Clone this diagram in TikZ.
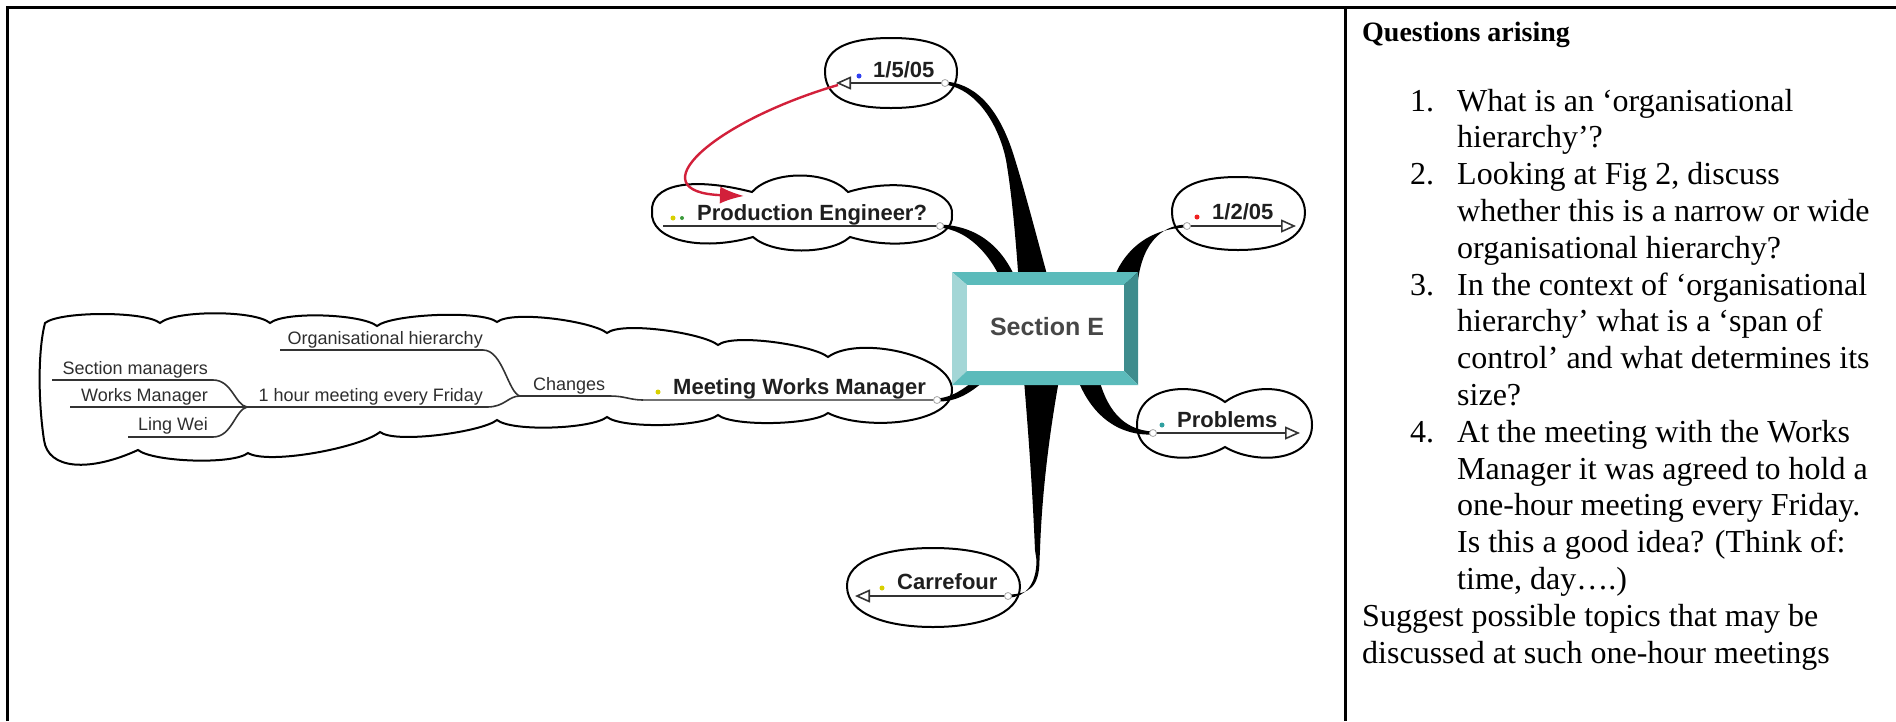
\documentclass[tikz,border=0pt]{standalone}
\usepackage{fontspec}
\setmainfont{Liberation Serif}
\newfontfamily\arialf{Liberation Sans}
\usetikzlibrary{arrows.meta}
\definecolor{teallight}{HTML}{A3D6D6}
\definecolor{tealmid}{HTML}{5BBBBB}
\definecolor{tealdark}{HTML}{3E8C8D}
\definecolor{redarrow}{HTML}{D2203A}
\definecolor{dotyellow}{HTML}{D8D000}
\definecolor{dotgreen}{HTML}{3C9A3C}
\definecolor{dotblue}{HTML}{3040F0}
\definecolor{dotred}{HTML}{F02020}
\definecolor{dotteal}{HTML}{30A0A0}
\tikzset{
  lbl/.style={font=\arialf\bfseries\fontsize{22}{26}\selectfont, text=black!88, inner sep=0pt, anchor=base west},
  sublbl/.style={font=\arialf\fontsize{18}{22}\selectfont, text=black!82, inner sep=0pt, anchor=base east},
  uline/.style={line width=1.6pt, draw=black!80},
  bubble/.style={line width=2pt, draw=black},
  branch/.style={fill=black},
  endc/.style={draw=black!35, fill=white, line width=0.8pt},
  opentip/.style={-{Triangle[open,length=15pt,width=13pt,line width=1.6pt]}},
  qtext/.style={font=\fontsize{32}{36.8}\selectfont, inner sep=0pt, anchor=base west},
  frame/.style={line width=3pt, draw=black},
  mdot/.style={inner sep=0pt, minimum size=5pt, circle},
}
\begin{document}
\begin{tikzpicture}[x=1pt,y=-1pt]
\useasboundingbox (0,0) rectangle (1896,721);
% ---------- frame ----------
\draw[frame] (7.5,721) -- (7.5,7.5) -- (1896,7.5);
\draw[frame] (1345,7.5) -- (1345,721);

% ---------- bubbles ----------
% 1/5/05
\draw[bubble,shift={(891,73)}] (-66,0) .. controls (-67,-28) and (-35,-35) .. (0,-35) .. controls (35,-35) and (67,-28) .. (66,0) .. controls (65,28) and (35,35) .. (0,35) .. controls (-35,35) and (-65,28) .. (-66,0) -- cycle;
% 1/2/05
\draw[bubble,shift={(1238,213)}] (-66,0) .. controls (-67,-28) and (-35,-36) .. (0,-36) .. controls (35,-36) and (67,-28) .. (67,0) .. controls (66,28) and (35,37) .. (0,37) .. controls (-35,37) and (-65,28) .. (-66,0) -- cycle;
% Carrefour
\draw[bubble,shift={(933,587)}] (-86,0) .. controls (-87,-28) and (-45,-39) .. (0,-39) .. controls (45,-39) and (87,-28) .. (87,0) .. controls (86,28) and (45,40) .. (0,40) .. controls (-45,40) and (-85,28) .. (-86,0) -- cycle;
% Problems
\draw[bubble] (1225,402) .. controls (1195,380) and (1137,385) .. (1137,425) .. controls (1137,462) and (1195,465) .. (1225,447) .. controls (1255,465) and (1312,462) .. (1312,425) .. controls (1312,385) and (1255,380) .. (1225,402) -- cycle;
% Production Engineer?
\draw[bubble] (652,212) .. controls (650,185) and (690,176) .. (752,192) .. controls +(20,-22) and +(-20,-22) .. (848,192) .. controls (900,176) and (955,190) .. (952,215) .. controls (955,240) and (900,252) .. (850,237) .. controls +(-20,18) and +(20,18) .. (753,237) .. controls (700,252) and (650,240) .. (652,212) -- cycle;
% Meeting Works Manager
\draw[bubble] (45,323) .. controls +(15,-12) and +(-15,-12) .. (160,323)
  .. controls +(15,-13) and +(-15,-13) .. (270,323)
  .. controls +(15,-12) and +(-15,-12) .. (377,326)
  .. controls +(15,-12) and +(-15,-12) .. (497,322)
  .. controls +(15,-12) and +(-15,-12) .. (607,333)
  .. controls +(15,-12) and +(-15,-12) .. (718,345)
  .. controls +(15,-12) and +(-15,-12) .. (828,357)
  .. controls +(30,-22) and +(0,-35) .. (952,390)
  .. controls +(0,35) and +(35,18) .. (828,413)
  .. controls +(-15,12) and +(15,12) .. (718,415)
  .. controls +(-15,12) and +(15,12) .. (607,417)
  .. controls +(-15,12) and +(15,12) .. (497,420)
  .. controls +(-15,12) and +(15,12) .. (380,432)
  .. controls +(-20,16) and +(20,12) .. (248,453)
  .. controls +(-15,12) and +(15,12) .. (138,450)
  .. controls (90,472) and (48,470) .. (44,440)
  .. controls (38,400) and (38,350) .. (45,323) -- cycle;

% ---------- anchor coordinates ----------
\coordinate (e105) at (945,83);
\coordinate (t105) at (836,83);
\coordinate (epe) at (940,226);
\coordinate (spe) at (663,226);
\coordinate (e102) at (1187,226);
\coordinate (t102) at (1296,226);
\coordinate (epr) at (1153,433);
\coordinate (tpr) at (1300,433);
\coordinate (eca) at (1008,596);
\coordinate (tca) at (855,596);
\coordinate (emw) at (937,400);
\coordinate (jch) at (643,400);
\coordinate (jc) at (520,396);
\coordinate (jw) at (247,407);

% ---------- branches ----------
% to 1/5/05
\fill[branch] (945,84.5) .. controls (980,90) and (1000,130) .. (1006,160) .. controls (1012,195) and (1016,240) .. (1020,300) -- (1054,300) .. controls (1040,250) and (1025,190) .. (1012,150) .. controls (1000,115) and (980,84) .. (945,81.5) -- cycle;
% to Production Engineer?
\fill[branch] (938,224.5) .. controls (975,225) and (1005,245) .. (1020,290) -- (1005,290) .. controls (995,260) and (970,229) .. (938,227.5) -- cycle;
% to 1/2/05
\fill[branch] (1187,224.5) .. controls (1160,225) and (1140,245) .. (1137,290) -- (1110,290) .. controls (1120,250) and (1150,228) .. (1187,227.5) -- cycle;
% to Problems
\fill[branch] (1153,431.5) .. controls (1122,430) and (1106,408) .. (1098,375) -- (1076,375) .. controls (1090,415) and (1118,436) .. (1153,434.5) -- cycle;
% to Carrefour
\fill[branch] (1009,597.5) .. controls (1025,597) and (1036.5,585) .. (1036.5,560) -- (1035,550) .. controls (1032,480) and (1028,430) .. (1024,380) -- (1059,380) .. controls (1050,430) and (1042,490) .. (1040,550) -- (1039.5,560) .. controls (1039.5,588) and (1028,594) .. (1009,594.5) -- cycle;
% to Meeting Works Manager
\fill[branch] (937,401.5) .. controls (958,402) and (972,392) .. (990,376) -- (984,372) .. controls (968,386) and (955,397) .. (937,398.5) -- cycle;

% ---------- central box ----------
\fill[tealmid] (952,272) -- (1138,272) -- (1124,285) -- (967,285) -- cycle;
\fill[teallight] (952,272) -- (967,285) -- (967,371) -- (952,385) -- cycle;
\fill[tealdark] (1138,272) -- (1138,385) -- (1124,371) -- (1124,285) -- cycle;
\fill[tealmid] (952,385) -- (967,371) -- (1124,371) -- (1138,385) -- cycle;
\fill[white] (967,285) rectangle (1124,371);
\node[font=\arialf\bfseries\fontsize{25}{30}\selectfont, text=black!72, inner sep=0pt] (secE) at (1047,327) {Section E};

% ---------- underlines / arrows ----------
\draw[uline,opentip] (e105) -- (t105);
\draw[uline] (spe) -- (epe);
\draw[uline,opentip] (e102) -- (t102);
\draw[uline,opentip] (epr) -- (tpr);
\draw[uline,opentip] (eca) -- (tca);
\draw[line width=2.6pt, draw=black!55] (jch) -- (emw);
\draw[uline] (52,380) -- (213,380) .. controls (232,380) and (235,405) .. (jw);
\draw[uline] (70,407) -- (jw);
\draw[uline] (128,437) -- (213,437) .. controls (232,437) and (235,410) .. (jw);
\draw[uline] (jw) -- (487,407) .. controls (505,407) and (508,396) .. (jc);
\draw[uline] (280,350) -- (483,350) .. controls (503,350) and (508,393) .. (jc);
\draw[uline] (jc) -- (610,396) .. controls (625,396) and (630,400) .. (jch);
% end circles
\foreach \p in {e105,epe,e102,epr,eca,emw} \draw[endc] (\p) circle (3.5pt);

% red link arrow
\draw[draw=redarrow, line width=2.4pt, -{Latex[length=24pt,width=17pt]}] (838,85) .. controls (712,122) and (636,192) .. (744,196);

% ---------- labels ----------
\node[lbl] (l105) at (873,77) {1/5/05};
\node[lbl] (lpe) at (697,220) {Production Engineer?};
\node[lbl] (l102) at (1212,219) {1/2/05};
\node[lbl] (lpr) at (1177,427) {Problems};
\node[lbl] (lca) at (897,589) {Carrefour};
\node[lbl] (lmw) at (673,394) {Meeting Works Manager};
\node[sublbl,anchor=base west] (lch) at (533,390) {Changes};
\node[sublbl] (loh) at (483,344) {Organisational hierarchy};
\node[sublbl] (lhr) at (483,401) {1 hour meeting every Friday};
\node[sublbl] (lsm) at (208,374) {Section managers};
\node[sublbl] (lwm) at (208,401) {Works Manager};
\node[sublbl] (llw) at (208,430) {Ling Wei};
% dots
\node[mdot,fill=dotblue] (d1) at (859,76) {};
\node[mdot,fill=dotyellow] (d2) at (673,218) {};
\node[mdot,fill=dotgreen,minimum size=4pt] (d3) at (682,218) {};
\node[mdot,fill=dotred] (d4) at (1197,217) {};
\node[mdot,fill=dotteal] (d5) at (1162,425) {};
\node[mdot,fill=dotyellow] (d6) at (882,588) {};
\node[mdot,fill=dotyellow] (d7) at (658,392) {};

% ---------- questions panel ----------
\node[qtext,font=\bfseries\fontsize{28}{32}\selectfont] (qh) at (1362,41) {Questions arising};
\node[qtext] (n1) at (1410,111) {1.};
\node[qtext] (q1a) at (1457,111) {What is an ‘organisational};
\node[qtext] (q1b) at (1457,147.8) {hierarchy’?};
\node[qtext] (n2) at (1410,184.6) {2.};
\node[qtext] (q2a) at (1457,184.6) {Looking at Fig 2, discuss};
\node[qtext] (q2b) at (1457,221.4) {whether this is a narrow or wide};
\node[qtext] (q2c) at (1457,258.2) {organisational hierarchy?};
\node[qtext] (n3) at (1410,295) {3.};
\node[qtext] (q3a) at (1457,295) {In the context of ‘organisational};
\node[qtext] (q3b) at (1457,331.8) {hierarchy’ what is a ‘span of};
\node[qtext] (q3c) at (1457,368.6) {control’ and what determines its};
\node[qtext] (q3d) at (1457,405.4) {size?};
\node[qtext] (n4) at (1410,442.2) {4.};
\node[qtext] (q4a) at (1457,442.2) {At the meeting with the Works};
\node[qtext] (q4b) at (1457,479) {Manager it was agreed to hold a};
\node[qtext] (q4c) at (1457,515.8) {one-hour meeting every Friday.};
\node[qtext] (q4d) at (1457,552.6) {Is this a good idea? (Think of:};
\node[qtext] (q4e) at (1457,589.4) {time, day….)};
\node[qtext] (s1) at (1362,626.2) {Suggest possible topics that may be};
\node[qtext] (s2) at (1362,663) {discussed at such one-hour meetings};
\end{tikzpicture}
\end{document}
